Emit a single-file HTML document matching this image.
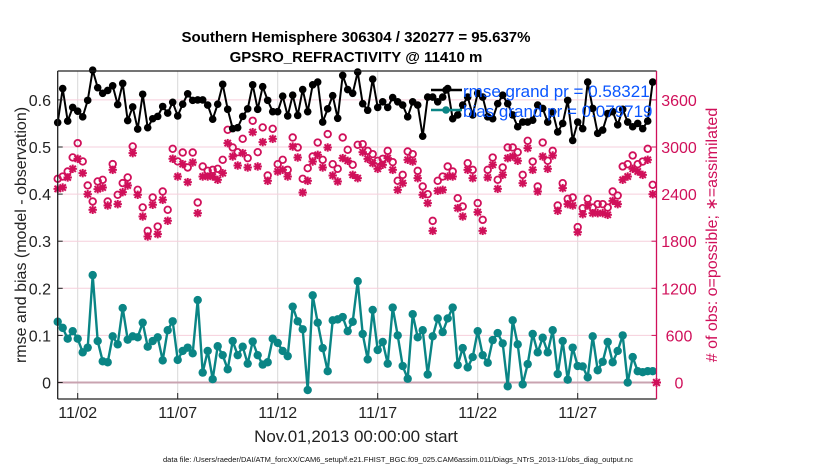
<!DOCTYPE html>
<html><head><meta charset="utf-8"><style>
body{margin:0;background:#fff;width:830px;height:470px;overflow:hidden}
svg{display:block;font-family:"Liberation Sans",Arial,sans-serif}
</style></head><body>
<svg id="chart" width="830" height="470" viewBox="0 0 830 470">
<text x="356" y="42" text-anchor="middle" font-size="15" font-weight="bold">Southern Hemisphere 306304 / 320277 = 95.637%</text>
<text x="356" y="62" text-anchor="middle" font-size="15" font-weight="bold">GPSRO_REFRACTIVITY @ 11410 m</text>
<g id="grid"></g>
<g id="zero"></g>
<g id="counts"></g>
<g id="lines"></g>
<g id="axes"></g>
<g id="legend"></g>
<text transform="translate(26,235) rotate(-90)" text-anchor="middle" font-size="16" fill="#222">rmse and bias (model - observation)</text>
<text transform="translate(717,235) rotate(-90)" text-anchor="middle" font-size="16" fill="#d0105a"># of obs: o=possible; ∗=assimilated</text>
<text x="356" y="442" text-anchor="middle" font-size="17" fill="#222">Nov.01,2013 00:00:00 start</text>
<text x="398" y="462" text-anchor="middle" font-size="7.5" fill="#111">data file: /Users/raeder/DAI/ATM_forcXX/CAM6_setup/f.e21.FHIST_BGC.f09_025.CAM6assim.011/Diags_NTrS_2013-11/obs_diag_output.nc</text>
</svg>
<script>
const xTickDays=[1,6,11,16,21,26];
const xTickLabels=["11/02","11/07","11/12","11/17","11/22","11/27"];
const yTicks=[0,0.1,0.2,0.3,0.4,0.5,0.6];
const yTickLabels=["0","0.1","0.2","0.3","0.4","0.5","0.6"];
const rTicks=[0,600,1200,1800,2400,3000,3600];
const rmse=[0.552,0.624,0.555,0.584,0.576,0.564,0.599,0.663,0.626,0.614,0.62,0.63,0.59,0.635,0.556,0.585,0.538,0.612,0.541,0.56,0.565,0.586,0.572,0.595,0.566,0.591,0.613,0.599,0.6,0.6,0.589,0.559,0.591,0.633,0.58,0.539,0.541,0.565,0.581,0.632,0.58,0.628,0.599,0.575,0.575,0.608,0.566,0.61,0.567,0.622,0.575,0.632,0.638,0.553,0.581,0.609,0.561,0.652,0.622,0.614,0.659,0.592,0.578,0.644,0.584,0.596,0.584,0.605,0.596,0.589,0.564,0.596,0.589,0.523,0.606,0.606,0.596,0.606,0.624,0.56,0.568,0.589,0.606,0.568,0.614,0.606,0.564,0.56,0.592,0.61,0.592,0.568,0.543,0.553,0.553,0.557,0.589,0.582,0.553,0.575,0.532,0.55,0.599,0.514,0.553,0.539,0.638,0.582,0.529,0.536,0.571,0.575,0.547,0.58,0.553,0.543,0.55,0.539,0.555,0.638];
const bias=[0.129,0.116,0.093,0.109,0.093,0.064,0.074,0.228,0.088,0.045,0.043,0.098,0.081,0.158,0.091,0.098,0.096,0.127,0.076,0.088,0.096,0.047,0.111,0.13,0.048,0.067,0.074,0.062,0.175,0.021,0.067,0.007,0.077,0.058,0.028,0.088,0.058,0.076,0.04,0.087,0.058,0.038,0.043,0.093,0.084,0.067,0.056,0.161,0.13,0.113,-0.016,0.185,0.127,0.073,0.024,0.132,0.134,0.139,0.109,0.129,0.215,0.103,0.049,0.154,0.069,0.086,0.04,0.159,0.1,0.035,0.008,0.145,0.096,0.111,0.017,0.098,0.136,0.107,0.136,0.159,0.037,0.073,0.032,0.054,0.109,0.058,0.042,0.09,0.105,0.083,-0.008,0.132,0.081,-0.004,0.039,0.103,0.064,0.095,0.064,0.111,0.018,0.088,0.006,0.074,0.035,0.034,0.011,0.098,0.026,0.044,0.086,0.043,0.067,0.1,0.0,0.054,0.024,0.022,0.024,0.024];
const possible=[2595,2624,2688,2867,3049,2816,2510,2306,2561,2582,2306,2782,2391,2540,2612,3007,2455,2230,1932,2357,1987,2433,2200,2977,2816,2930,2739,2930,2293,2752,2697,2709,2722,2837,3219,2994,2934,3104,2858,3334,2934,3249,2637,3232,2781,2837,2709,3121,2994,2595,2730,2879,3057,2837,3164,2781,2722,3121,2964,2773,3028,3036,2951,2909,2824,2849,2951,2807,2569,2645,2943,2909,2696,2497,2399,2059,2569,2624,2752,2688,2348,2242,2794,2709,2285,2072,2709,2866,2582,2739,2994,2994,2934,2645,3079,2815,2497,3057,2824,2951,2255,2539,2340,2357,1980,2221,2340,2229,2272,2272,2229,2433,2382,2752,2781,2892,2781,2815,2977,2518];
const assimilated=[2467,2484,2612,2722,2850,2667,2399,2200,2463,2484,2255,2709,2272,2425,2510,2922,2391,2115,1860,2264,1890,2327,2060,2850,2624,2782,2552,2803,2157,2624,2624,2624,2582,2667,3049,2879,2764,2922,2739,3189,2752,3062,2569,3104,2688,2709,2624,3006,2866,2420,2569,2815,2900,2739,2994,2637,2561,2858,2824,2645,2603,2934,2849,2794,2722,2773,2858,2709,2454,2539,2837,2815,2603,2391,2285,1932,2442,2454,2624,2624,2221,2115,2709,2603,2170,1932,2612,2773,2467,2645,2858,2879,2824,2539,2985,2709,2433,2879,2722,2892,2187,2476,2272,2255,1915,2144,2255,2157,2157,2157,2136,2314,2272,2582,2624,2722,2688,2645,2837,2399];
const legendLabels=["rmse grand pr = 0.58321","bias grand pr = 0.079719"];

const NS="http://www.w3.org/2000/svg";
const L=57.7,R=656.5,T=71,B=399;
const xs=d=>L+20*d;
const ys=v=>382.5-v*471;
const yr=c=>ys(c/6000);
const RED="#d0105a",TEAL="#0a8585";
function mk(p,tag,a){const e=document.createElementNS(NS,tag);for(const k in a)e.setAttribute(k,a[k]);p.appendChild(e);return e;}
const grid=document.getElementById('grid'),axes=document.getElementById('axes');
xTickDays.forEach((d,i)=>{
 const g=mk(grid,'line',{x1:xs(d),x2:xs(d),y1:T,y2:B,stroke:'#d8d8d8','stroke-width':1});
 
 
 const t=mk(axes,'line',{x1:xs(d),x2:xs(d),y1:B,y2:B-6,stroke:'#222'});
 
 
 const lb=mk(axes,'text',{x:xs(d),y:418,'text-anchor':'middle','font-size':16,fill:'#222'});
 lb.textContent=xTickLabels[i];
 
 
});
yTicks.forEach((v,i)=>{
 const g=mk(grid,'line',{x1:L,x2:R,y1:ys(v),y2:ys(v),stroke:'#f6cfdc','stroke-width':1});
 
 
 const lb=mk(axes,'text',{x:51,y:ys(v)+6,'text-anchor':'end','font-size':16,fill:'#222'});
 lb.textContent=yTickLabels[i];
 
 
 const t=mk(axes,'line',{x1:L,x2:L+5,y1:ys(v),y2:ys(v),stroke:'#222'});
 
 
});
rTicks.forEach(c=>{
 const lb=mk(axes,'text',{x:679,y:yr(c)+6,'text-anchor':'middle','font-size':16,fill:RED});
 lb.textContent=String(c);
 
 
 const t=mk(axes,'line',{x1:R-5,x2:R,y1:yr(c),y2:yr(c),stroke:RED});
 
 
});
const z=mk(document.getElementById('zero'),'line',{x1:L,x2:R,y1:ys(0),y2:ys(0),stroke:'#c9a3b0','stroke-width':2});


[[L,T,R,T,'#222'],[L,T,L,B,'#222'],[L,B,R,B,'#222'],[R,T,R,B,RED]].forEach(a=>{
 const e=mk(axes,'line',{x1:a[0],y1:a[1],x2:a[2],y2:a[3],stroke:a[4],'stroke-width':1.3});
 
 
});
const counts=document.getElementById('counts');
function star(p,x,y,s){
 const g=mk(p,'g',{stroke:RED,'stroke-width':2});
 mk(g,'line',{x1:x-s,x2:x+s,y1:y,y2:y});
 mk(g,'line',{x1:x,x2:x,y1:y-s,y2:y+s});
 mk(g,'line',{x1:x-s*.75,x2:x+s*.75,y1:y-s*.75,y2:y+s*.75});
 mk(g,'line',{x1:x-s*.75,x2:x+s*.75,y1:y+s*.75,y2:y-s*.75});
 return g;
}
possible.forEach((c,i)=>{
 const e=mk(counts,'circle',{cx:xs(i*0.25),cy:yr(c),r:3.3,fill:'none',stroke:RED,'stroke-width':1.8});
 
 
});
assimilated.forEach((c,i)=>{
 const e=star(counts,xs(i*0.25),yr(c),4.2);
 
 
});
const zs=star(counts,R,yr(0),4.5);


const lines=document.getElementById('lines');
function series(arr,col,r,w,name){
 const pts=arr.map((v,i)=>xs(i*0.25)+','+ys(v)).join(' ');
 const pl=mk(lines,'polyline',{points:pts,fill:'none',stroke:col,'stroke-width':w,'stroke-linejoin':'round'});
 
 
 arr.forEach((v,i)=>{
  const c=mk(lines,'circle',{cx:xs(i*0.25),cy:ys(v),r:r,fill:col});
  
  
 });
}
series(bias,TEAL,4.2,2.4,'bias');
series(rmse,'#000',3.8,2,'rmse');
const lg=document.getElementById('legend');
[['#000',90],[TEAL,110]].forEach((a,i)=>{
 const l=mk(lg,'line',{x1:431,x2:462,y1:a[1],y2:a[1],stroke:a[0],'stroke-width':2.4});
 
 
 const c=mk(lg,'circle',{cx:446,cy:a[1],r:3.8,fill:a[0]});
 
 
 const t=mk(lg,'text',{x:463,y:a[1]+7,'font-size':17,fill:'#0a55ff'});
 t.textContent=legendLabels[i];
 
 
});
</script>
</body></html>
